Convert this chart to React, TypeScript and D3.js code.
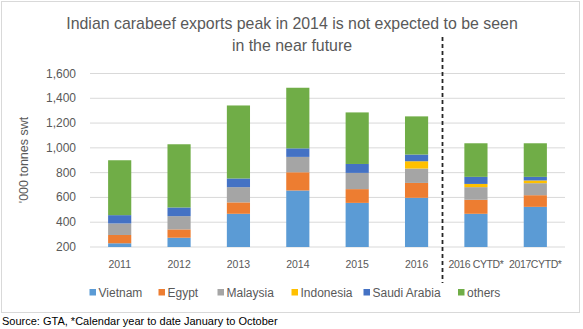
import React from "react";
import * as d3 from "d3";

const categories = ["2011", "2012", "2013", "2014", "2015", "2016", "2016 CYTD*", "2017CYTD*"];
const seriesNames = ["Vietnam", "Egypt", "Malaysia", "Indonesia", "Saudi Arabia", "others"];
const vietnam = [230, 275, 468, 656, 556, 597, 468, 524];
const egypt = [67, 67, 92, 147, 111, 120, 113, 94];
const malaysia = [93, 107, 123, 124, 131, 116, 102, 97];
const indonesia = [0, 0, 0, 0, 0, 59, 26, 22];
const saudiArabia = [67, 70, 70, 69, 72, 54, 57, 29];
const others = [443, 510, 589, 489, 416, 308, 271, 271];
const yTicks = [200, 400, 600, 800, 1000, 1200, 1400, 1600];
const colors = ["#5B9BD5", "#ED7D31", "#A5A5A5", "#FFC000", "#4472C4", "#70AD47"];

const W = 583, H = 329;
const font = "Liberation Sans, Arial, sans-serif";

export default function App() {
  const seriesValues = [vietnam, egypt, malaysia, indonesia, saudiArabia, others];
  const rows = categories.map((c, i) => {
    const r: any = { cat: c };
    seriesNames.forEach((s, j) => (r[s] = seriesValues[j][i]));
    return r;
  });
  const stacked = d3.stack<any>().keys(seriesNames)(rows);

  const x = d3.scaleBand().domain(categories).range([90, 565]).paddingInner(0.61).paddingOuter(0.305);
  const y = d3.scaleLinear().domain([200, 1600]).range([247, 73.5]);
  const fmt = d3.format(",");

  const legendX = [89.5, 158.5, 217.5, 291.5, 363.5, 458];

  return (
    <svg width={W} height={H} style={{ position: "absolute", left: 0, top: 0 }} fontFamily={font}>
      <rect x={0} y={0} width={W} height={H} fill="#fff" />
      <rect x={1.5} y={1.5} width={578} height={311} fill="#fff" stroke="#D9D9D9" strokeWidth={1} />
      <text x={292} y={29} textAnchor="middle" fontSize={15.9} fill="#595959">
        Indian carabeef exports peak in 2014 is not expected to be seen
      </text>
      <text x={292} y={51} textAnchor="middle" fontSize={15.9} fill="#595959">
        in the near future
      </text>
      <defs>
        <clipPath id="plot">
          <rect x={85} y={60} width={490} height={187} />
        </clipPath>
      </defs>
      {yTicks.map((t) => (
        <g key={t}>
          <line x1={90} x2={565} y1={y(t)} y2={y(t)} stroke="#D9D9D9" strokeWidth={1} />
          <text x={76} y={y(t) + 4} textAnchor="end" fontSize={12} fill="#595959">
            {fmt(t)}
          </text>
        </g>
      ))}
      <text
        transform={`translate(28,160) rotate(-90)`}
        textAnchor="middle"
        fontSize={12.5}
        fill="#595959"
      >
        '000 tonnes swt
      </text>
      <g clipPath="url(#plot)">
        {stacked.map((s, j) =>
          s.map((d, i) => (
            <rect
              key={`${j}-${i}`}
              x={x(categories[i])}
              width={x.bandwidth()}
              y={y(d[1])}
              height={Math.max(0, y(d[0]) - y(d[1]))}
              fill={colors[j]}
            />
          ))
        )}
      </g>
      {categories.map((c) => (
        <text
          key={c}
          x={(x(c) as number) + x.bandwidth() / 2}
          y={268}
          textAnchor="middle"
          fontSize={10.5}
          letterSpacing={c.length > 4 ? -0.4 : 0}
          fill="#595959"
        >
          {c}
        </text>
      ))}
      <line x1={442.5} x2={442.5} y1={37} y2={283} stroke="#262626" strokeWidth={1.8} strokeDasharray="4,3" />
      {seriesNames.map((s, j) => (
        <g key={s}>
          <rect x={legendX[j]} y={289} width={6.5} height={6.5} fill={colors[j]} />
          <text x={legendX[j] + 9} y={296.5} fontSize={12} fill="#595959">
            {s}
          </text>
        </g>
      ))}
      <text x={2} y={325} fontSize={11} fill="#000">
        Source: GTA, *Calendar year to date January to October
      </text>
    </svg>
  );
}
